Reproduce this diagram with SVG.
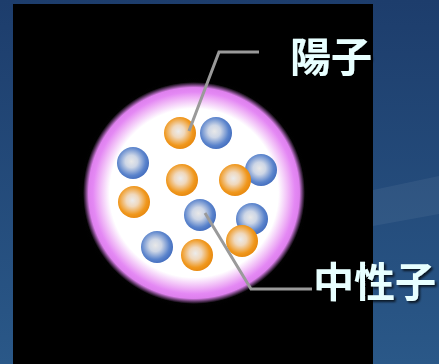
<svg xmlns="http://www.w3.org/2000/svg" width="439" height="364" viewBox="0 0 439 364">
  <defs>
    <linearGradient id="bg" x1="0" y1="0" x2="0" y2="1">
      <stop offset="0" stop-color="#1d3d6c"/>
      <stop offset="1" stop-color="#2a5888"/>
    </linearGradient>
    <radialGradient id="nucleus" cx="0.5" cy="0.5" r="0.5">
      <stop offset="0" stop-color="#ffffff"/>
      <stop offset="0.76" stop-color="#ffffff"/>
      <stop offset="0.86" stop-color="#eeb0f6"/>
      <stop offset="0.91" stop-color="#e488f4"/>
      <stop offset="0.95" stop-color="#de80ee"/>
      <stop offset="1" stop-color="#c070d0" stop-opacity="0"/>
    </radialGradient>
    <radialGradient id="halo" cx="0.5" cy="0.5" r="0.5">
      <stop offset="0.85" stop-color="#303030" stop-opacity="0.5"/>
      <stop offset="1" stop-color="#000" stop-opacity="0"/>
    </radialGradient>
    <radialGradient id="proton" cx="0.45" cy="0.45" r="0.55">
      <stop offset="0" stop-color="#ececec"/>
      <stop offset="0.35" stop-color="#f0d8bc"/>
      <stop offset="0.8" stop-color="#f0981e"/>
      <stop offset="1" stop-color="#e88a10"/>
    </radialGradient>
    <radialGradient id="neutron" cx="0.45" cy="0.45" r="0.55">
      <stop offset="0" stop-color="#e8e8e8"/>
      <stop offset="0.35" stop-color="#cdd6e6"/>
      <stop offset="0.8" stop-color="#5b84cc"/>
      <stop offset="1" stop-color="#4670c0"/>
    </radialGradient>
    <filter id="shadow" x="-20%" y="-20%" width="140%" height="140%">
      <feDropShadow dx="2" dy="2" stdDeviation="1" flood-color="#000" flood-opacity="0.7"/>
    </filter>
  </defs>
  <style>
    .p { fill: url(#proton); }
    .n { fill: url(#neutron); }
    .lead { fill: none; stroke: #9a9a9a; stroke-width: 3; stroke-linejoin: miter; }
    .label { font-family: "Noto Sans CJK JP", "Noto Sans CJK SC", sans-serif; font-weight: bold; font-size: 41px; fill: #e8ffff; filter: url(#shadow); }
  </style>

  <!-- slide background -->
  <rect width="439" height="364" fill="url(#bg)"/>
  <polygon points="373,190 439,176 439,214 373,226" fill="#ffffff" opacity="0.06"/>

  <!-- black panel -->
  <rect x="13" y="4" width="360" height="360" fill="#000"/>

  <!-- glowing nucleus -->
  <g id="nucleus-body">
    <circle cx="194" cy="193" r="116" fill="url(#halo)"/>
    <circle cx="194" cy="193" r="111" fill="url(#nucleus)"/>
  </g>

  <!-- nucleons, back to front -->
  <g id="nucleons">
    <circle class="n" cx="261" cy="170" r="16"/>
    <circle class="n" cx="252" cy="219" r="16"/>
    <circle class="p" cx="180" cy="133" r="16"/>
    <circle class="n" cx="216" cy="133" r="16"/>
    <circle class="n" cx="133" cy="163" r="16"/>
    <circle class="p" cx="182" cy="180" r="16"/>
    <circle class="p" cx="235" cy="180" r="16"/>
    <circle class="p" cx="134" cy="202" r="16"/>
    <circle class="n" cx="200" cy="215" r="16"/>
    <circle class="p" cx="242" cy="241" r="16"/>
    <circle class="n" cx="157" cy="247" r="16"/>
    <circle class="p" cx="197" cy="255" r="16"/>
  </g>

  <!-- leader lines -->
  <g id="connectors">
    <polyline class="lead" points="189,131 219,52 259,52"/>
    <polyline class="lead" points="205,213 251,289 312,289"/>
  </g>

  <g id="label-proton">
    <text class="label" x="290" y="72">陽子</text>
  </g>
  <g id="label-neutron">
    <text class="label" x="313" y="297">中性子</text>
  </g>
</svg>
